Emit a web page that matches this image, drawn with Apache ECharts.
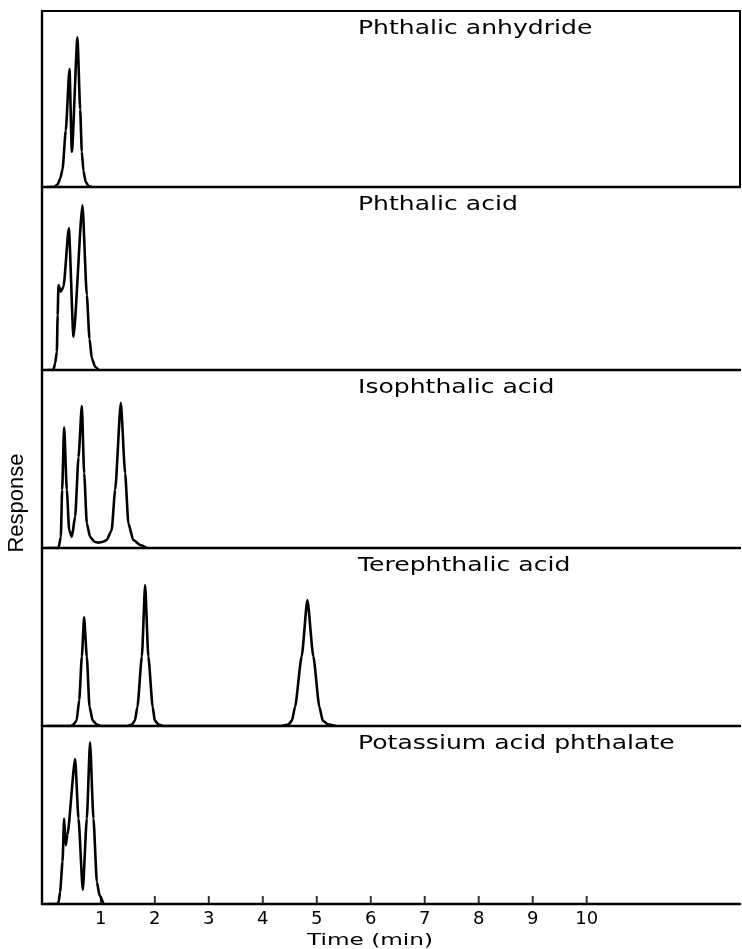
<!DOCTYPE html>
<html><head><meta charset="utf-8">
<script src="https://cdn.jsdelivr.net/npm/echarts@6/dist/echarts.min.js"></script>
<style>html,body{margin:0;padding:0;background:#fff}#c{width:742px;height:949px}</style>
</head><body><div id="c"></div>
<script>
// ---- data (time in min, response in % of panel height) ----
const panelNames = ['Phthalic anhydride', 'Phthalic acid', 'Isophthalic acid', 'Terephthalic acid', 'Potassium acid phthalate'];

const phthalicAnhydride = [[0,0],[0.14,0],[0.2,1.5],[0.25,5],[0.29,10],[0.35,32],[0.419,67],[0.463,20],[0.567,85],[0.617,44],[0.648,20],[0.678,9],[0.72,3],[0.77,0.5],[0.83,0]];

const phthalicAcid = [[0,0],[0.12,0],[0.154,3.7],[0.185,10],[0.2,30],[0.215,46.4],[0.259,42.8],[0.308,45.5],[0.407,77.4],[0.493,18.2],[0.66,90],[0.74,41],[0.79,17],[0.833,6.4],[0.894,1.8],[0.96,0]];

const isophthalicAcid = [[0,0],[0.216,0],[0.259,6.3],[0.283,32.6],[0.32,67.8],[0.37,32.6],[0.413,10],[0.463,6.3],[0.524,17.6],[0.586,51],[0.648,79.8],[0.691,42],[0.74,13.9],[0.8,6.3],[0.88,3.5],[0.956,3],[1.04,3.5],[1.11,4.5],[1.2,10],[1.265,32.6],[1.37,81.6],[1.45,42],[1.51,13.9],[1.6,4.5],[1.73,1.7],[1.85,0]];

const terephthalicAcid = [[0,0],[0.45,0],[0.49,0.8],[0.55,3],[0.6,14.6],[0.648,39],[0.69,61],[0.74,39],[0.79,10.8],[0.85,3],[0.926,0.8],[1.0,0],
  [1.5,0],[1.574,0.8],[1.63,3],[1.678,10.8],[1.76,39],[1.82,79.2],[1.88,39],[1.96,10.8],[2.0,3],[2.07,0.8],[2.15,0],
  [4.35,0],[4.474,0.8],[4.54,3],[4.598,10.8],[4.72,39],[4.826,70.8],[4.937,39],[5.048,10.8],[5.11,3],[5.215,0.8],[5.35,0]];

const potassiumAcidPhthalate = [[0,0],[0.2,0],[0.22,1.5],[0.246,6.9],[0.29,23.8],[0.32,48],[0.35,33],[0.38,38.8],[0.524,81.5],[0.586,48],[0.666,7.9],[0.74,48],[0.80,90.8],[0.863,48],[0.926,12.5],[0.975,5],[1.05,0]];

const seriesData = [phthalicAnhydride, phthalicAcid, isophthalicAcid, terephthalicAcid, potassiumAcidPhthalate];
const tickLabels = [1,2,3,4,5,6,7,8,9,10];
const xTitle = 'Time (min)';
const yTitle = 'Response';

// ---- layout / style ----
const X_MIN = -0.09, X_MAX = 12.84;
const bounds = [11, 187, 370, 548, 726, 904];
const LEFT = 42, RIGHT = 2;
const INK = '#000';

const grids = [], xAxes = [], yAxes = [], series = [], graphics = [];
for (let i = 0; i < 5; i++) {
  const top = bounds[i], h = bounds[i+1] - bounds[i];
  grids.push({left: LEFT, right: RIGHT, top: top, height: h,
    show: i === 0, borderColor: INK, borderWidth: 2, backgroundColor: 'transparent'});
  const last = i === 4;
  xAxes.push({type: 'value', gridIndex: i, min: X_MIN, max: X_MAX,
    axisLine: {show: true, onZero: false, lineStyle: {color: INK, width: 2.4}},
    axisTick: {show: false},
    axisLabel: last ? {show: true, color: INK, fontSize: 18, fontFamily: 'DejaVu Sans', margin: 6, customValues: tickLabels} : {show: false},
    splitLine: {show: false}});
  yAxes.push({type: 'value', gridIndex: i, min: 0, max: 100,
    axisLine: {show: true, onZero: false, lineStyle: {color: INK, width: 2.4}},
    axisTick: {show: false}, axisLabel: {show: false}, splitLine: {show: false}});
  series.push({type: 'line', xAxisIndex: i, yAxisIndex: i, data: seriesData[i],
    showSymbol: false, smooth: 0.2, smoothMonotone: 'x', silent: true,
    lineStyle: {color: INK, width: 2.6}});
  graphics.push({type: 'text', x: 358, y: top + 18, scaleX: 1.32,
    style: {text: panelNames[i], fontSize: 19, fontFamily: 'DejaVu Sans', fill: INK, align: 'left', verticalAlign: 'middle'}});
}
// upward tick marks on the time axis, placed by the axis scale
series.push({type: 'scatter', xAxisIndex: 4, yAxisIndex: 4, silent: true,
  data: tickLabels.map(v => [v, 0]),
  symbol: 'rect', symbolSize: [2, 8], symbolOffset: [0, -4],
  itemStyle: {color: INK}});

graphics.push({type: 'text', x: 17, y: 503, rotation: Math.PI / 2,
  style: {text: yTitle, fontSize: 22, fontFamily: 'Liberation Sans', fill: INK, align: 'center', verticalAlign: 'middle'}});
graphics.push({type: 'text', x: 370, y: 941, scaleX: 1.45,
  style: {text: xTitle, fontSize: 16, fontFamily: 'DejaVu Sans', fill: INK, align: 'center', verticalAlign: 'middle'}});

const chart = echarts.init(document.getElementById('c'), null, {renderer: 'canvas'});
chart.setOption({
  backgroundColor: '#fff',
  animation: false,
  grid: grids, xAxis: xAxes, yAxis: yAxes, series: series,
  graphic: graphics
});
</script></body></html>
